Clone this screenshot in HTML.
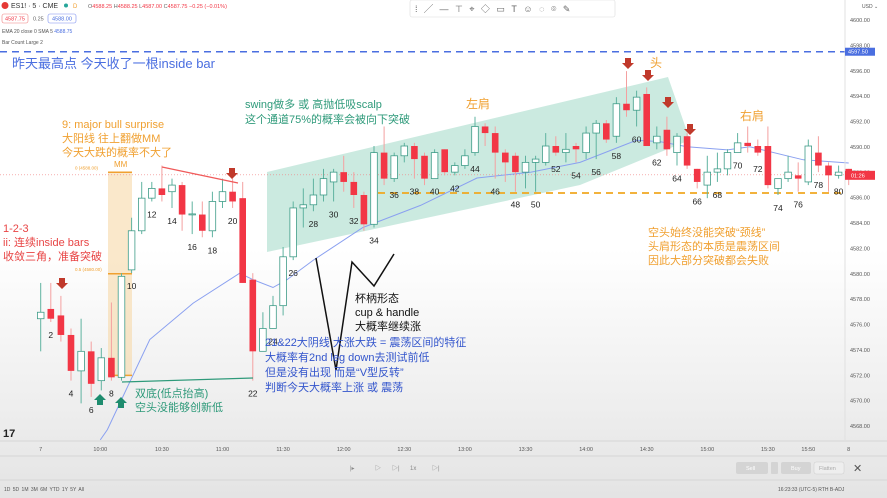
<!DOCTYPE html>
<html><head><meta charset="utf-8">
<style>
html,body{margin:0;padding:0;background:#fff;}
svg{display:block;font-family:"Liberation Sans","Noto Sans CJK SC",sans-serif;}
</style></head>
<body>
<svg id="chart" width="887" height="498" viewBox="0 0 887 498">
<defs>
<linearGradient id="bg" x1="0" y1="0" x2="0" y2="1">
<stop offset="0" stop-color="#ffffff"/><stop offset="0.5" stop-color="#ffffff"/><stop offset="1" stop-color="#e4e4e4"/>
</linearGradient>
</defs>
<rect x="0" y="0" width="887" height="498" fill="url(#bg)"/>
<g id="overlays"></g>
<g id="candles"></g>
<g id="anno"></g>
</svg>
<script>
// ---- data ----
const opens  = [4576.46,4577.23,4576.72,4575.18,4572.35,4573.89,4571.58,4573.38,4571.84,4580.31,4583.39,4585.96,4586.73,4586.47,4586.99,4584.67,4584.67,4583.39,4585.70,4586.47,4585.96,4579.54,4573.89,4575.69,4577.49,4581.34,4585.19,4585.44,4586.21,4587.24,4588.01,4587.24,4586.21,4583.90,4589.55,4587.50,4589.30,4590.07,4589.30,4587.50,4589.81,4588.01,4588.53,4589.55,4591.61,4591.09,4589.55,4589.30,4588.01,4588.78,4588.78,4590.07,4589.55,4590.07,4589.55,4591.09,4591.86,4590.84,4593.40,4592.89,4594.17,4590.32,4591.35,4589.55,4590.84,4588.27,4586.99,4588.01,4588.27,4589.55,4590.32,4590.07,4590.07,4586.73,4587.50,4587.76,4587.24,4589.55,4588.53,4587.76,4588.27];
const highs  = [4579.28,4579.28,4578.26,4575.69,4576.46,4574.66,4574.15,4577.74,4580.05,4584.42,4587.24,4587.24,4588.53,4587.50,4587.24,4585.70,4585.70,4586.47,4587.50,4587.50,4587.24,4580.05,4576.97,4578.26,4582.11,4585.70,4586.73,4587.50,4588.27,4588.27,4589.30,4588.01,4586.47,4590.07,4591.61,4589.55,4590.32,4590.32,4589.55,4589.81,4589.81,4588.78,4589.81,4592.38,4591.86,4591.61,4589.81,4589.55,4589.30,4589.30,4591.09,4590.84,4591.09,4590.32,4591.61,4592.12,4592.12,4593.92,4595.97,4594.43,4594.69,4591.61,4592.38,4591.09,4591.09,4588.27,4589.30,4589.55,4589.81,4591.09,4591.61,4590.58,4591.61,4587.50,4589.30,4588.78,4590.58,4590.84,4588.78,4588.53,4588.27];
const lows   = [4573.89,4576.20,4574.66,4571.58,4569.79,4570.30,4570.81,4571.58,4571.58,4580.05,4583.13,4585.70,4585.70,4585.19,4583.39,4583.13,4582.88,4582.88,4585.19,4585.19,4579.28,4571.58,4573.89,4575.69,4576.72,4581.08,4583.65,4584.93,4585.70,4585.70,4586.47,4585.19,4583.39,4583.65,4586.99,4587.24,4588.78,4587.50,4586.99,4587.50,4587.76,4587.76,4588.27,4589.30,4590.07,4587.50,4587.24,4586.47,4586.73,4586.47,4588.53,4589.30,4588.78,4588.78,4589.04,4589.04,4590.32,4590.32,4592.38,4591.61,4590.07,4589.81,4589.30,4588.53,4588.27,4586.73,4585.96,4587.24,4587.76,4589.55,4589.55,4589.30,4586.73,4586.21,4587.24,4586.47,4586.99,4588.01,4586.47,4587.50,4586.99];
const closes = [4576.97,4576.46,4575.18,4572.35,4573.89,4571.33,4573.38,4571.84,4579.80,4583.39,4585.96,4586.73,4586.21,4586.99,4584.67,4584.72,4583.39,4585.70,4586.47,4585.70,4579.28,4573.89,4575.69,4577.49,4581.34,4585.19,4585.44,4586.21,4587.50,4588.01,4587.24,4586.21,4583.90,4589.55,4587.50,4589.30,4590.07,4589.04,4587.50,4589.55,4588.01,4588.53,4589.30,4591.61,4591.09,4589.55,4588.78,4588.01,4588.78,4589.04,4590.07,4589.55,4589.81,4589.81,4591.09,4591.86,4590.58,4593.40,4592.89,4593.92,4590.07,4590.84,4589.81,4590.84,4588.53,4587.24,4588.01,4588.27,4589.55,4590.32,4590.07,4589.55,4586.99,4587.50,4588.01,4587.50,4590.07,4588.53,4587.76,4588.01,4587.76];
const emaBars   = [6.9,7.6,11.8,16.1,20.7,22,24,25.4,28,32.9,38.6,44.2,49.5,54.4,60,62.3,65,69,71.2,76.5,81];
const emaValues = [4566.91,4567.72,4574.82,4577.69,4580.05,4579.54,4578.92,4579.54,4581.08,4583.65,4585.39,4587.55,4588.01,4588.78,4590.53,4590.42,4590.01,4589.76,4590.01,4588.98,4588.73];
const priceTicks = [4600,4598,4596,4594,4592,4590,4588,4586,4584,4582,4580,4578,4576,4574,4572,4570,4568];
const timeLabels = ["7","10:00","10:30","11:00","11:30","12:00","12:30","13:00","13:30","14:00","14:30","15:00","15:30","15:50","8"];
const timeBars   = [1,6.9,13,19,25,31,37,43,49,55,61,67,73,77,81];
const mmLevels = [4588,4580,4572];
const mmLabels = ["0 (4588.00)","0.5 (4580.00)",""];
const yesterdayHigh = 4597.5;
const neckline = 4586.37;
const lastPrice = 4587.8;

// ---- scales ----
function xs(i){return 30.6+10.1*i;}
function ys(p){return 20+(4600-p)*12.69;}
const NS="http://www.w3.org/2000/svg";
function mk(tag,attrs,parent){const e=document.createElementNS(NS,tag);for(const k in attrs)e.setAttribute(k,attrs[k]);parent.appendChild(e);return e;}
const svg=document.getElementById('chart');
const ov=document.getElementById('overlays');
const cg=document.getElementById('candles');

// channel
let ch=mk('polygon',{points:"267,172 668,77 690,140 580,185 267,252",fill:"#b9e3d6","fill-opacity":"0.75"},ov);


// MM band
let mm=mk('rect',{x:108,y:ys(mmLevels[0]),width:24,height:ys(mmLevels[2])-ys(mmLevels[0]),fill:"#f7d9a8","fill-opacity":"0.6"},ov);


mmLevels.forEach(function(v,i){
 let l=mk('line',{x1:108,x2:132,y1:ys(v),y2:ys(v),stroke:"#f0a030","stroke-width":1.5},ov);
 
 
 if(mmLabels[i]){let t=mk('text',{x:75,y:ys(v)-3,"font-size":"4.5",fill:"#f0a030"},ov);t.textContent=mmLabels[i];
 
 }
});
// yesterday high dashed
let yh=mk('line',{x1:0,x2:845,y1:ys(yesterdayHigh),y2:ys(yesterdayHigh),stroke:"#4a6ee0","stroke-width":1.5,"stroke-dasharray":"7,5"},ov);


// last price dotted
let lp=mk('line',{x1:0,x2:845,y1:ys(lastPrice),y2:ys(lastPrice),stroke:"#f08080","stroke-width":0.7,"stroke-dasharray":"1,2"},ov);


// neckline
let nk=mk('line',{x1:378,x2:845,y1:ys(neckline),y2:ys(neckline),stroke:"#f0a820","stroke-width":1.8,"stroke-dasharray":"7,5"},ov);



// EMA
let pts=emaBars.map(function(b,i){return xs(b).toFixed(1)+","+ys(emaValues[i]).toFixed(1);}).join(" ");
let ema=mk('polyline',{points:pts,fill:"none",stroke:"#8aa0f0","stroke-width":1},ov);



// candles
for(let i=0;i<opens.length;i++){
 const n=i+1,o=opens[i],h=highs[i],l=lows[i],c=closes[i];
 const up=c>=o;
 const g=mk('g',{},cg);
 
 
 const x=xs(n);
 const w=mk('line',{x1:x,x2:x,y1:ys(h),y2:ys(l),stroke:up?"#5fb3a0":"#f4a0a0","stroke-width":1},g);
 
 
 const top=ys(Math.max(o,c)),bot=ys(Math.min(o,c));
 const b=mk('rect',{x:x-3.3,y:top,width:6.6,height:Math.max(1,bot-top),fill:up?"#ffffff":"#f23645",stroke:up?"#3f9c88":"#f23645","stroke-width":up?0.8:0},g);
 
 
 if(n%2===0){
  const t=mk('text',{x:x,y:ys(l)+16,"font-size":"8.5",fill:"#222","text-anchor":"middle"},g);
  t.textContent=String(n);
  
  
 }
}

// price axis
let ax=mk('line',{x1:845,x2:845,y1:0,y2:440,stroke:"#e0e0e0","stroke-width":1},svg);


priceTicks.forEach(function(p){
 const t=mk('text',{x:850,y:ys(p)+2,"font-size":"5.5",fill:"#555"},svg);
 t.textContent=p.toFixed(2);
 
 
});
let yhb=mk('rect',{x:845,y:ys(yesterdayHigh)-4,width:30,height:8,fill:"#4a6ee0"},svg);


let yht=mk('text',{x:848,y:ys(yesterdayHigh)+2,"font-size":"5.5",fill:"#fff"},svg);yht.textContent=yesterdayHigh.toFixed(2);


let lpb=mk('rect',{x:845,y:ys(lastPrice)-4,width:30,height:9,fill:"#f23645"},svg);


let lpt=mk('text',{x:851,y:ys(lastPrice)+2.5,"font-size":"5.5",fill:"#fff"},svg);lpt.textContent="01:26";


let usd=mk('text',{x:862,y:8,"font-size":"5",fill:"#555"},svg);usd.textContent="USD ⌄";



// time axis
let ta=mk('line',{x1:0,x2:887,y1:441,y2:441,stroke:"#d6d6d6","stroke-width":1},svg);


timeLabels.forEach(function(s,i){
 const t=mk('text',{x:xs(timeBars[i]),y:451,"font-size":"5.5",fill:"#555","text-anchor":"middle"},svg);
 t.textContent=s;
 
 
});
</script>

<svg width="887" height="498" viewBox="0 0 887 498" style="position:absolute;left:0;top:0;pointer-events:none;font-family:'Liberation Sans','Noto Sans CJK SC',sans-serif;">
<circle cx="5" cy="5.5" r="3.5" fill="#e53935"/>
<text x="11" y="8" font-size="7" fill="#333">ES1! · 5 · CME</text>
<circle cx="66" cy="5.5" r="2" fill="#26a69a"/>
<text x="73" y="8" font-size="6" fill="#f0a030">D</text>
<text x="88" y="8" font-size="5.5" fill="#f23645"><tspan fill="#666">O</tspan>4588.25 <tspan fill="#666">H</tspan>4588.25 <tspan fill="#666">L</tspan>4587.00 <tspan fill="#666">C</tspan>4587.75 −0.25 (−0.01%)</text>
<rect x="2" y="14" width="26" height="9" rx="2" fill="#fff" stroke="#f08080" stroke-width="0.6"/>
<text x="5" y="20.5" font-size="5.5" fill="#f23645">4587.75</text>
<text x="33" y="20.5" font-size="5.5" fill="#666">0.25</text>
<rect x="48" y="14" width="28" height="9" rx="2" fill="#fff" stroke="#7a8ef0" stroke-width="0.6"/>
<text x="52" y="20.5" font-size="5.5" fill="#4a6ee0">4588.00</text>
<text x="2" y="33" font-size="5" fill="#555">EMA 20 close 0 SMA 5 <tspan fill="#4a6ee0">4588.75</tspan></text>
<text x="2" y="44" font-size="5" fill="#555">Bar Count Large 2</text>
<g>
<rect x="410" y="0" width="205" height="17" rx="2" fill="#fff" stroke="#ddd" stroke-width="0.6"/>
<text x="415" y="12" font-size="9" fill="#666" letter-spacing="6.5">⁞╱—⊤⌖◇▭T☺◌⌾✎</text>
</g>
<text x="12" y="68" font-size="13" fill="#4a6ee0">昨天最高点  今天收了一根inside bar</text>
<g fill="#f0a030" font-size="11">
<text x="62" y="128">9: major bull surprise</text>
<text x="62" y="142">大阳线 往上翻做MM</text>
<text x="62" y="156">今天大跌的概率不大了</text>
</g>
<text x="114" y="167" font-size="8" fill="#f0a030">MM</text>
<g fill="#e84545" font-size="11">
<text x="3" y="232">1-2-3</text>
<text x="3" y="246">ii: 连续inside bars</text>
<text x="3" y="260">收敛三角，准备突破</text>
</g>
<line x1="162" y1="167" x2="238" y2="183" stroke="#f05a5a" stroke-width="1.2"/>
<line x1="122" y1="382" x2="253" y2="378" stroke="#2e9a7a" stroke-width="1.2"/>
<g fill="#c0392b">
<path d="M59,278h6v5h3l-6,6l-6,-6h3z"/>
<path d="M229,168h6v5h3l-6,6l-6,-6h3z"/>
<path d="M625,58h6v5h3l-6,6l-6,-6h3z"/>
<path d="M645,70h6v5h3l-6,6l-6,-6h3z"/>
<path d="M665,97h6v5h3l-6,6l-6,-6h3z"/>
<path d="M687,124h6v5h3l-6,6l-6,-6h3z"/>
</g>
<g fill="#1e8c6e">
<path d="M97,405h6v-5h3l-6,-6l-6,6h3z"/>
<path d="M118,408h6v-5h3l-6,-6l-6,6h3z"/>
</g>
<g fill="#2e9a7a" font-size="11">
<text x="135" y="397">双底(低点抬高)</text>
<text x="135" y="411">空头没能够创新低</text>
</g>
<g fill="#2e9a7a" font-size="11">
<text x="245" y="108">swing做多 或 高抛低吸scalp</text>
<text x="245" y="123">这个通道75%的概率会被向下突破</text>
</g>
<polyline points="316,258 336,370 352,262 374,286 394,254" fill="none" stroke="#111" stroke-width="1.5"/>
<g fill="#111" font-size="11">
<text x="355" y="302">杯柄形态</text>
<text x="355" y="316">cup &amp; handle</text>
<text x="355" y="330">大概率继续涨</text>
</g>
<g fill="#3355cc" font-size="11">
<text x="265" y="346">21&amp;22大阴线  大涨大跌 = 震荡区间的特征</text>
<text x="265" y="361">大概率有2nd leg down去测试前低</text>
<text x="265" y="376">但是没有出现  而是“V型反转”</text>
<text x="265" y="391">判断今天大概率上涨 或 震荡</text>
</g>
<text x="466" y="108" font-size="12" fill="#f0a030">左肩</text>
<text x="650" y="67" font-size="12" fill="#f0a030">头</text>
<text x="740" y="120" font-size="12" fill="#f0a030">右肩</text>
<g fill="#f0a030" font-size="11">
<text x="648" y="236">空头始终没能突破“颈线”</text>
<text x="648" y="250">头肩形态的本质是震荡区间</text>
<text x="648" y="264">因此大部分突破都会失败</text>
</g>
<text x="3" y="437" font-size="11" font-weight="bold" fill="#222">17</text>
<line x1="0" y1="456" x2="887" y2="456" stroke="#d6d6d6"/>
<g fill="#888" font-size="6">
<text x="350" y="470">|▸</text><text x="375" y="470">▷</text><text x="392" y="470">▷|</text><text x="410" y="470">1x</text><text x="432" y="470">▷|</text>
</g>
<rect x="736" y="462" width="32" height="12" rx="2" fill="#d4d4d4"/>
<text x="746" y="470" font-size="5.5" fill="#fff">Sell</text>
<rect x="771" y="462" width="7" height="12" rx="1" fill="#d4d4d4"/>
<rect x="781" y="462" width="30" height="12" rx="2" fill="#d4d4d4"/>
<text x="791" y="470" font-size="5.5" fill="#fff">Buy</text>
<rect x="814" y="462" width="30" height="12" rx="2" fill="#eee" stroke="#ccc" stroke-width="0.5"/>
<text x="819" y="470" font-size="5.5" fill="#aaa">Flatten</text>
<text x="853" y="472" font-size="11" fill="#555">✕</text>
<line x1="0" y1="480" x2="887" y2="480" stroke="#d6d6d6"/>
<text x="4" y="491" font-size="5" fill="#555" word-spacing="1">1D 5D 1M 3M 6M YTD 1Y 5Y All</text>
<text x="778" y="491" font-size="5" fill="#555">16:23:33 (UTC-5)  RTH   B-ADJ</text>
</svg>
</body></html>
